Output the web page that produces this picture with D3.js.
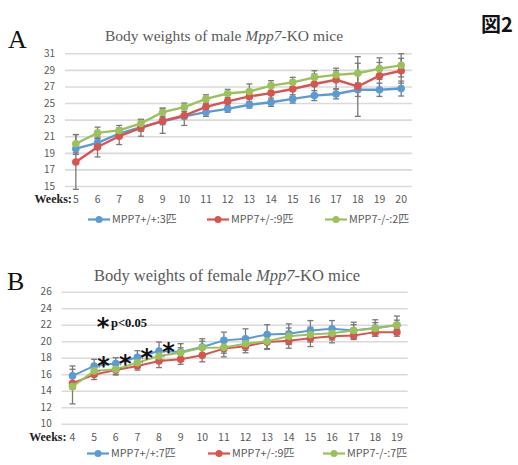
<!DOCTYPE html>
<html><head><meta charset="utf-8">
<script src="https://cdn.jsdelivr.net/npm/d3@7"></script>
<style>
html,body{margin:0;padding:0;background:#fff;}
svg{display:block;}
</style></head>
<body>
<svg id="chart" width="518" height="465"></svg>
<script>
// ---------- Data ----------
const weeksA = [5,6,7,8,9,10,11,12,13,14,15,16,17,18,19,20];
const yTicksA = [15,17,19,21,23,25,27,29,31];
const maleWT  = [19.5,20.2,21.3,22.1,22.8,23.4,23.9,24.3,24.8,25.1,25.5,25.9,26.1,26.6,26.6,26.75];
const maleHet = [17.9,19.7,21.0,22.0,22.85,23.5,24.55,25.2,25.8,26.2,26.7,27.3,27.8,27.0,28.3,28.9];
const maleKO  = [20.1,21.4,21.7,22.55,23.9,24.5,25.5,26.15,26.4,27.1,27.5,28.1,28.4,28.6,29.15,29.55];
const maleWTsd  = [0.7,0.5,0.4,0.5,0.4,0.3,0.5,0.4,0.4,0.5,0.5,0.6,0.6,0.8,0.8,0.9];
const maleHetsd = [3.3,1.2,1.0,1.0,1.5,1.2,0.7,0.8,0.8,1.0,1.0,1.2,1.1,3.6,1.6,1.5];
const maleKOsd  = [1.1,0.7,0.6,0.5,0.5,0.5,0.5,0.5,0.9,0.6,0.6,0.8,0.8,1.2,1.3,1.4];

const weeksB = [4,5,6,7,8,9,10,11,12,13,14,15,16,17,18,19];
const yTicksB = [10,12,14,16,18,20,22,24,26];
const femWT  = [15.8,17.0,17.3,18.05,18.8,18.7,19.3,20.1,20.3,20.8,20.9,21.3,21.5,21.3,21.6,21.95];
const femHet = [14.9,15.95,16.5,17.0,17.6,17.8,18.3,19.1,19.4,19.9,20.05,20.35,20.6,20.7,21.1,21.1];
const femKO  = [14.5,16.4,16.6,17.4,18.2,18.6,19.2,19.25,19.7,20.0,20.6,20.8,20.95,21.3,21.55,21.95];
const femWTsd  = [1.2,0.8,0.7,0.8,1.1,1.0,1.0,1.0,1.2,1.2,1.2,1.2,1.0,1.0,1.0,1.1];
const femHetsd = [0.7,0.6,0.6,0.5,0.8,0.6,0.8,1.0,0.8,0.8,0.9,1.0,0.8,0.5,0.5,0.5];
const femKOsd  = [2.1,0.6,0.6,0.6,0.7,0.6,0.8,0.7,0.8,1.0,1.0,0.9,0.8,0.7,0.7,0.6];
const sigWeeksB = [5,6,7,8];

const legendA = ["MPP7+/+:3匹","MPP7+/-:9匹","MPP7-/-:2匹"];
const legendB = ["MPP7+/+:7匹","MPP7+/-:9匹","MPP7-/-:7匹"];
const colors = ["#5b9bd5","#d9534f","#9bc25a"];

// ---------- Drawing ----------
const svg = d3.select("#chart");
const gray = "#595959";
const sans = "'Noto Sans CJK JP','Noto Sans',sans-serif";

function panel(cfg){
  const g = svg.append("g");
  const x = d3.scaleBand().domain(cfg.weeks).range(cfg.xr).padding(0);
  const cx = w => x(w) + x.bandwidth()/2;
  const y = d3.scaleLinear().domain(cfg.ydom).range(cfg.yr);

  // gridlines + y labels
  const ya = d3.axisLeft(y).tickValues(cfg.yticks).tickSize(-(cfg.xr[1]-cfg.xr[0])).tickPadding(10);
  const gy = g.append("g").attr("transform",`translate(${cfg.xr[0]},0)`).call(ya);
  gy.select(".domain").remove();
  gy.selectAll(".tick line").attr("stroke","#dadada").attr("stroke-width",1.6);
  gy.selectAll(".tick text").attr("fill",gray).attr("font-size",10).attr("font-family",sans);

  // x labels
  const xa = d3.axisBottom(x).tickSize(0).tickPadding(0);
  const gx = g.append("g").attr("transform",`translate(0,${cfg.xlabY})`).call(xa);
  gx.select(".domain").remove();
  gx.selectAll(".tick text").attr("fill",gray).attr("font-size",10.5).attr("font-family",sans).attr("dy","0.35em");
  g.append("text").attr("x",cx(cfg.weeks[0])-cfg.weeksOff).attr("y",cfg.xlabY).attr("dy","0.35em")
    .attr("text-anchor","end").attr("font-family","'Liberation Serif',serif").attr("font-weight","bold")
    .attr("font-size",12).attr("fill","#222").text("Weeks:");

  // title
  const t = g.append("text").attr("x",cfg.titleX).attr("y",cfg.titleY).attr("text-anchor","middle")
    .attr("font-family","'Liberation Serif',serif").attr("font-size",cfg.titleSize).attr("fill",gray);
  t.append("tspan").text(cfg.title[0]);
  t.append("tspan").attr("font-style","italic").text("Mpp7");
  t.append("tspan").text("-KO mice");
  // panel letter
  g.append("text").attr("x",cfg.letterX).attr("y",cfg.letterY).attr("font-family","'Liberation Serif',serif")
    .attr("font-size",26).attr("fill","#111").text(cfg.letter);

  // error bars
  cfg.series.forEach((s,si)=>{
    const eb = g.append("g").attr("stroke","#7a7a7a").attr("stroke-width",1.3);
    cfg.weeks.forEach((w,i)=>{
      const v=s[i], e=cfg.sds[si][i], xx=cx(w);
      eb.append("line").attr("x1",xx).attr("x2",xx).attr("y1",y(v-e)).attr("y2",y(v+e));
      [v-e,v+e].forEach(c=>eb.append("line").attr("x1",xx-3).attr("x2",xx+3).attr("y1",y(c)).attr("y2",y(c)));
    });
  });
  // lines and markers
  cfg.series.forEach((s,si)=>{
    const line = d3.line().x((d,i)=>cx(cfg.weeks[i])).y(d=>y(d));
    g.append("path").datum(s).attr("d",line).attr("fill","none").attr("stroke",colors[si]).attr("stroke-width",cfg.lw);
    g.selectAll(null).data(s).enter().append("circle").attr("cx",(d,i)=>cx(cfg.weeks[i])).attr("cy",d=>y(d))
      .attr("r",cfg.r).attr("fill",colors[si]);
  });

  // legend
  cfg.legendX.forEach((lx,i)=>{
    g.append("line").attr("x1",lx).attr("x2",lx+22).attr("y1",cfg.legendY).attr("y2",cfg.legendY)
      .attr("stroke",colors[i]).attr("stroke-width",2.2);
    g.append("circle").attr("cx",lx+11).attr("cy",cfg.legendY).attr("r",3.5).attr("fill",colors[i]);
    g.append("text").attr("x",lx+24).attr("y",cfg.legendY).attr("dy","0.35em").attr("fill",gray)
      .attr("font-size",10.8).attr("font-family",sans).text(cfg.legend[i]);
  });
  return {g,x,y,cx};
}

panel({weeks:weeksA, xr:[65,412], ydom:[15,31], yr:[186,53.3], yticks:yTicksA, xlabY:199, weeksOff:4,
  title:["Body weights of male "], titleX:224, titleY:41, titleSize:15.5, letter:"A", letterX:8, letterY:48,
  series:[maleWT,maleHet,maleKO], sds:[maleWTsd,maleHetsd,maleKOsd], lw:2.4, r:3.8,
  legendX:[88,207,325], legendY:219.5, legend:legendA});

const pB = panel({weeks:weeksB, xr:[61.7,407.7], ydom:[10,26], yr:[423.7,291.7], yticks:yTicksB, xlabY:437, weeksOff:6,
  title:["Body weights of female "], titleX:227, titleY:281, titleSize:16.5, letter:"B", letterX:7, letterY:290,
  series:[femWT,femHet,femKO], sds:[femWTsd,femHetsd,femKOsd], lw:2, r:3.8,
  legendX:[87,208,323], legendY:453.5, legend:legendB});

// significance marks
sigWeeksB.forEach(w=>{
  const i = weeksB.indexOf(w);
  const xx = pB.cx(w);
  pB.g.append("line").attr("x1",xx+5).attr("x2",xx+5).attr("y1",pB.y(femWT[i])).attr("y2",pB.y(femHet[i]))
    .attr("stroke","#777").attr("stroke-width",1).attr("stroke-dasharray","2,2");
  pB.g.append("text").attr("x",xx+9.5).attr("y",pB.y(femWT[i])+8.5).attr("text-anchor","middle")
    .attr("font-family","'DejaVu Sans',sans-serif").attr("font-weight","bold").attr("font-size",24).attr("fill","#111").text("*");
});
pB.g.append("text").attr("x",103).attr("y",335).attr("text-anchor","middle")
  .attr("font-family","'DejaVu Sans',sans-serif").attr("font-weight","bold").attr("font-size",24).attr("fill","#111").text("*");
pB.g.append("text").attr("x",111).attr("y",327).attr("font-family","'Liberation Serif',serif")
  .attr("font-weight","bold").attr("font-size",12.5).attr("fill","#111").text("p<0.05");

// figure label
svg.append("text").attr("x",481).attr("y",32).attr("font-family","'Noto Sans CJK JP',sans-serif")
  .attr("font-weight","bold").attr("font-size",20).attr("fill","#111").text("図2");
</script>
</body></html>
